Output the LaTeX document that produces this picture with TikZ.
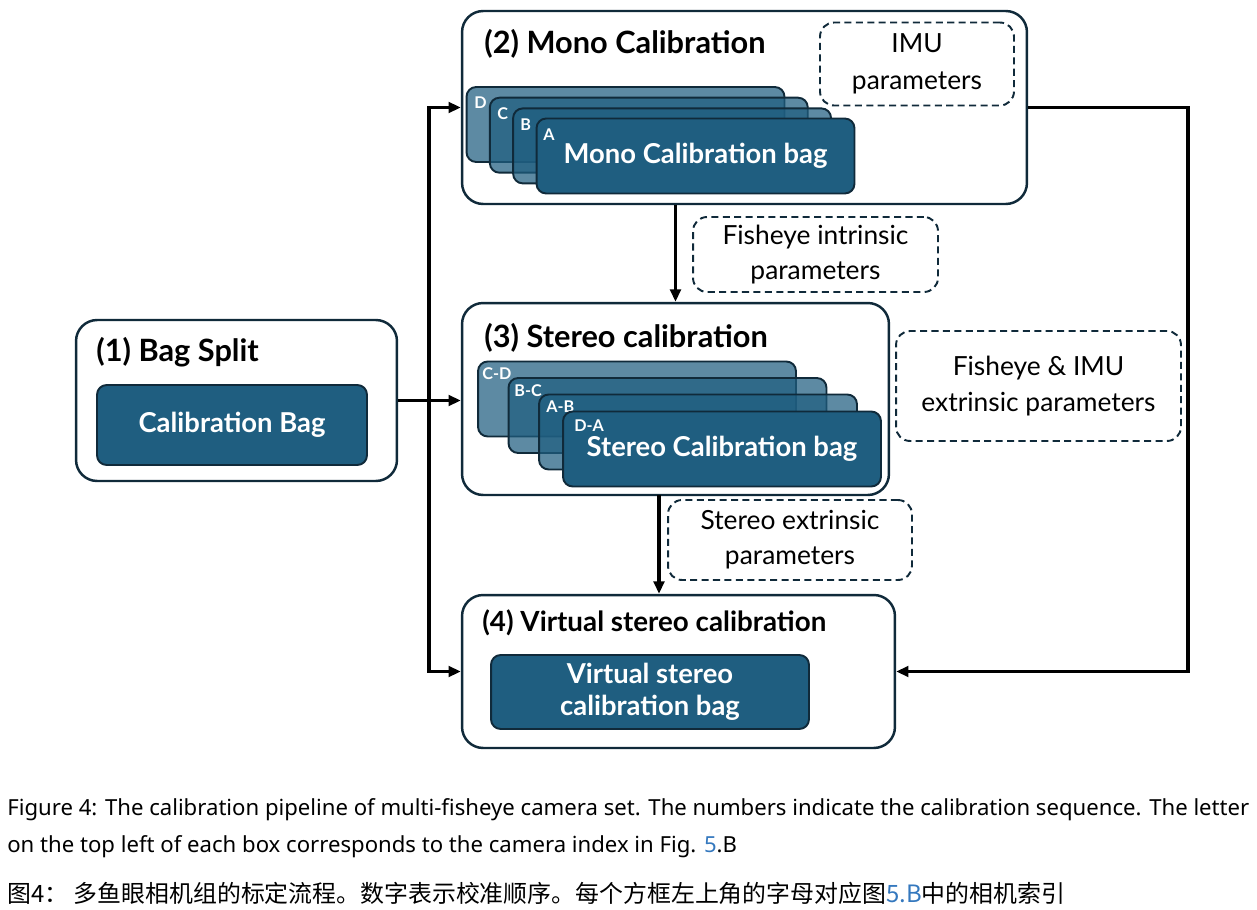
\documentclass[tikz,border=0pt]{standalone}
\usepackage{fontspec}
\setmainfont{Lato}
\newfontfamily\capfont{Noto Sans}
\newfontfamily\cjkfont{Noto Sans CJK SC}
\usetikzlibrary{arrows.meta}
\definecolor{bagteal}{RGB}{31,94,128}
\definecolor{edgenavy}{RGB}{16,42,58}
\definecolor{linkblue}{RGB}{52,120,190}
\tikzset{
  base/.style={align=center, inner sep=0pt},
  frame/.style={base, rectangle, rounded corners=12pt, draw=edgenavy, fill=white, line width=1.4pt},
  bag/.style={base, rectangle, rounded corners=5.5pt, draw=edgenavy, fill=bagteal, line width=1.1pt, text=white, font=\fontsize{15.6}{18}\selectfont\bfseries, minimum width=6.36cm, minimum height=1.5cm},
  bagback/.style={bag, fill opacity=0.72, text opacity=1},
  param/.style={base, rectangle, rounded corners=8pt, draw=edgenavy, dash pattern=on 4pt off 2.5pt, line width=1.1pt, font=\fontsize{15}{20}\selectfont},
  ttl/.style={base, anchor=west, font=\fontsize{17.5}{20}\selectfont\bfseries},
  tag/.style={base, anchor=west, text=white, font=\fontsize{9.2}{10}\selectfont\bfseries},
  arr/.style={-{Triangle[length=7pt,width=6pt]}, line width=1.8pt, draw=black},
  captext/.style={base, anchor=west, font=\capfont\fontsize{12.6}{14}\selectfont},
}
\begin{document}
\begin{tikzpicture}[x=0.02cm,y=-0.02cm]
  \useasboundingbox (0,0) rectangle (1257,909);
  % (1) bag split
  \node[frame,minimum width=6.42cm,minimum height=3.22cm] (split) at (236.5,400.5) {};
  \node[ttl] at (96,352) {(1) Bag Split};
  \node[bag,minimum width=5.4cm,minimum height=1.6cm] (calbag) at (232,425) {Calibration Bag};
  % (2) mono
  \node[frame,minimum width=11.3cm,minimum height=3.86cm] (mono) at (744.5,107.5) {};
  \node[ttl] at (484,44) {(2) Mono Calibration};
  \node[param,minimum width=3.88cm,minimum height=1.66cm,font=\fontsize{15}{21}\selectfont] (imu) at (917,64) {IMU\\parameters};
  \foreach \l [count=\i from 0] in {D,C,B}{
    \node[bagback] (mono\l) at (625.5+23.3*\i,124.5+10.7*\i) {};
    \node[tag] at (474+23*\i,103+11*\i) {\l};
  }
  \node[bag] (monoA) at (695.5,156) {\raisebox{-3pt}{Mono Calibration bag}};
  \node[tag] at (543,135) {A};
  % (3) stereo
  \node[frame,minimum width=8.54cm,minimum height=3.84cm] (stereo) at (675.5,399) {};
  \node[ttl] at (484,338) {(3) Stereo calibration};
  \foreach \l/\n [count=\i from 0] in {C-D/cd,B-C/bc,A-B/ab}{
    \node[bagback] (stereo\n) at (637+30.5*\i,399+16.5*\i) {};
    \node[tag] at (482+32*\i,374+16.5*\i) {\l};
  }
  \node[bag] (stereoda) at (722,449) {\raisebox{-2pt}{Stereo Calibration bag}};
  \node[tag] at (574,426) {D-A};
  % (4) virtual
  \node[frame,minimum width=8.66cm,minimum height=3.06cm] (virtual) at (678.5,671.5) {};
  \node[ttl,font=\fontsize{15.8}{18}\selectfont\bfseries] at (482,623) {(4) Virtual stereo calibration};
  \node[bag,minimum height=1.48cm] (vbag) at (650,692) {Virtual stereo\\calibration bag};
  % parameters
  \node[param,minimum width=4.9cm,minimum height=1.5cm] (intr) at (815.5,254.5) {Fisheye intrinsic\\parameters};
  \node[param,minimum width=5.7cm,minimum height=2.2cm] (fimu) at (1038.5,386) {Fisheye \& IMU\\extrinsic parameters};
  \node[param,minimum width=4.88cm,minimum height=1.6cm] (sext) at (790,540) {Stereo extrinsic\\parameters};
  % connectors
  \coordinate (trunk) at (429,400.5);
  \coordinate (rail) at (1188,400);
  \coordinate (s2v) at (659,495);
  \draw[arr] (split.east) -- (split.east -| stereo.west);
  \draw[arr] (trunk) |- (mono.west);
  \draw[arr] (trunk) |- (virtual.west);
  \draw[arr] (stereo.north |- mono.south) -- (stereo.north);
  \draw[arr] (s2v) -- (s2v |- virtual.north);
  \draw[arr] (mono.east) -- (mono.east -| rail) |- (virtual.east);
  % caption
  \node[captext] (cap1) at (7,810) {Figure 4: The calibration pipeline of multi-fisheye camera set. The numbers indicate the calibration sequence. The letter};
  \node[captext] (cap2) at (7,847) {on the top left of each box corresponds to the camera index in Fig. {\color{linkblue}5}.B};
  \node[captext,font=\cjkfont\fontsize{13.6}{16}\selectfont] (cap3) at (7,893) {图4： 多鱼眼相机组的标定流程。数字表示校准顺序。每个方框左上角的字母对应图{\color{linkblue}5.B}中的相机索引};
\end{tikzpicture}
\end{document}
